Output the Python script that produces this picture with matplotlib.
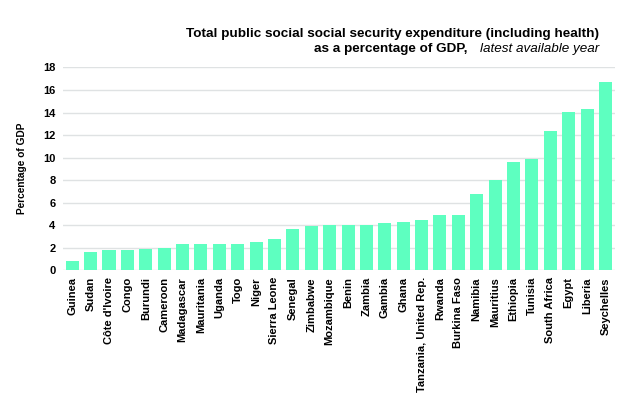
import matplotlib
matplotlib.use("Agg")
import matplotlib.pyplot as plt

countries = [
    "Guinea", "Sudan", "Côte d'Ivoire", "Congo", "Burundi", "Cameroon",
    "Madagascar", "Mauritania", "Uganda", "Togo", "Niger", "Sierra Leone",
    "Senegal", "Zimbabwe", "Mozambique", "Benin", "Zambia", "Gambia", "Ghana",
    "Tanzania, United Rep.", "Rwanda", "Burkina Faso", "Namibia", "Mauritius",
    "Ethiopia", "Tunisia", "South Africa", "Egypt", "Liberia", "Seychelles",
]
pct_gdp = [
    0.8, 1.6, 1.8, 1.8, 1.85, 2.0,
    2.28, 2.33, 2.33, 2.36, 2.45, 2.75,
    3.63, 3.93, 3.99, 4.0, 4.0, 4.17, 4.25,
    4.49, 4.93, 4.93, 6.8, 7.98,
    9.57, 9.84, 12.38, 14.07, 14.27, 16.72,
]
y_ticks = list(range(0, 19, 2))

plt.rcParams["font.family"] = ["Liberation Sans", "DejaVu Sans"]

fig = plt.figure(figsize=(6.25, 3.96), dpi=100)
ax = fig.add_axes([0.100, 0.318, 0.884, 0.513])

x = range(len(countries))
ax.bar(x, pct_gdp, width=0.71, color="#5effc0", zorder=2)

ax.set_xlim(-0.53, len(countries) - 0.48)
ax.set_ylim(0, 18.05)
ax.set_yticks(y_ticks)
ax.set_yticklabels([str(t) for t in y_ticks], fontweight="bold", fontsize=8)
ax.set_xticks(list(x))
ax.set_xticklabels(countries, rotation=90, fontweight="bold", fontsize=8)
ax.tick_params(axis="y", length=0, pad=5)
ax.tick_params(axis="x", length=0, pad=5)
ax.grid(axis="y", color="#dfe2e3", linewidth=1, zorder=0)
for s in ax.spines.values():
    s.set_visible(False)

ax.set_ylabel("Percentage of GDP", fontweight="bold", fontsize=7.3, labelpad=11.5)

# title: bold first line, second line mixes bold and italic
fig.text(0.958, 0.907, "Total public social social security expenditure (including health)",
         ha="right", va="baseline", fontsize=9.7, fontweight="bold")
it = fig.text(0.958, 0.868, "latest available year", ha="right", va="baseline",
              fontsize=9.7, style="italic")
ax.annotate("as a percentage of GDP,", xy=(0, 0), xycoords=it,
            xytext=(-9, 0), textcoords="offset points",
            ha="right", va="bottom", fontsize=9.7, fontweight="bold",
            annotation_clip=False)

fig.savefig("out.png", dpi=100)
